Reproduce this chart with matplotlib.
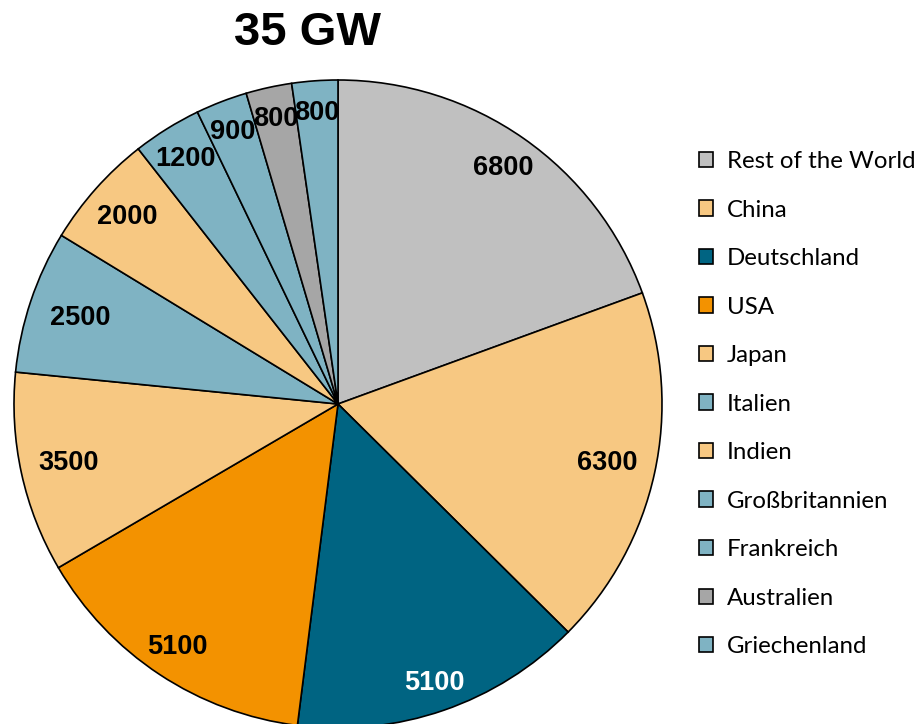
import numpy as np
import matplotlib.pyplot as plt
import matplotlib.patches as mpatches

countries = ["Rest of the World", "China", "Deutschland", "USA", "Japan", "Italien",
             "Indien", "Großbritannien", "Frankreich", "Australien", "Griechenland"]
values = [6800, 6300, 5100, 5100, 3500, 2500, 2000, 1200, 900, 800, 800]
colors = ["#C0C0C0", "#F7C882", "#006482", "#F39200", "#F7C882", "#7FB3C3",
          "#F7C882", "#7FB3C3", "#7FB3C3", "#A6A6A6", "#7FB3C3"]
label_colors = ["black", "black", "white", "black", "black", "black",
                "black", "black", "black", "black", "black"]
# radial position of each value label (fraction of radius)
label_dist = [0.89, 0.85, 0.91, 0.90, 0.85, 0.84, 0.87, 0.89, 0.90, 0.90, 0.90]

fig = plt.figure(figsize=(9.19, 7.24), dpi=100)
ax = fig.add_axes([14 / 919, -4 / 724, 648 / 919, 648 / 724])

total = sum(values)
wedges, texts, autotexts = ax.pie(
    values, colors=colors, startangle=90, counterclock=False,
    autopct=lambda p: "%d" % round(p * total / 100),
    pctdistance=0.88,
    wedgeprops=dict(edgecolor="black", linewidth=1.2),
    textprops=dict(family="Liberation Sans", fontweight="bold", fontsize=19.5))
for w, t, c, d in zip(wedges, autotexts, label_colors, label_dist):
    t.set_color(c)
    ang = np.deg2rad((w.theta1 + w.theta2) / 2)
    t.set_position((d * np.cos(ang), d * np.sin(ang)))
ax.set_xlim(-1, 1)
ax.set_ylim(-1, 1)
ax.set_aspect("equal")

fig.text(308 / 919, 1 - 33 / 724, "35 GW", ha="center", va="center",
         family="Liberation Sans", fontweight="bold", fontsize=34)

handles = [mpatches.Patch(facecolor=c, edgecolor="black", linewidth=1.2) for c in colors]
fig.legend(handles, countries, loc="upper left", bbox_to_anchor=(699 / 919, 1 - 151 / 724),
           frameon=False, prop=dict(family="Lato", size=17.3),
           handlelength=0.6, handleheight=0.6, handletextpad=0.56,
           labelspacing=1.145, borderpad=0, borderaxespad=0)

fig.savefig("out.png", dpi=100)
